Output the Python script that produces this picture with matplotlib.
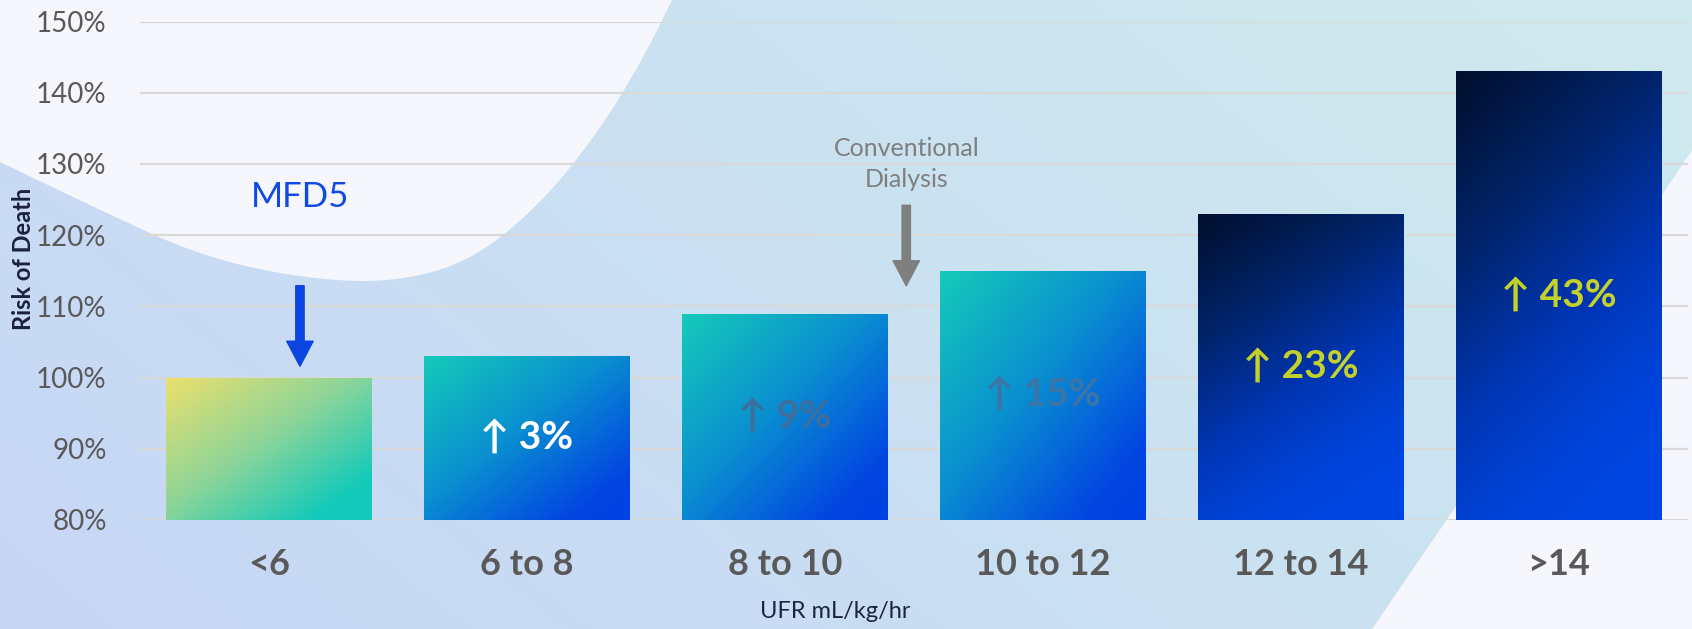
import numpy as np
import matplotlib
matplotlib.use('Agg')
import matplotlib.pyplot as plt
from matplotlib.colors import LinearSegmentedColormap, to_rgb
from matplotlib.patches import Polygon

# data
categories = ['<6', '6 to 8', '8 to 10', '10 to 12', '12 to 14', '>14']
risk = [100, 103, 109, 115, 123, 143]
increase = ['', '↑ 3%', '↑ 9%', '↑ 15%', '↑ 23%', '↑ 43%']
yticks = [80, 90, 100, 110, 120, 130, 140, 150]
base = 80

W, H = 1692, 629
fig = plt.figure(figsize=(W / 100, H / 100), dpi=100)

# --- decorative background ---
bg = fig.add_axes([0, 0, 1, 1], zorder=-10)
bg.set_xlim(0, W)
bg.set_ylim(H, 0)
bg.axis('off')
yy, xx = np.mgrid[0:H, 0:W]
s = np.clip((xx / W) * 0.75 + (1 - yy / H) * 0.35, 0, 1)[..., None]
lav = np.array(to_rgb('#c7d6f6'))
cyan = np.array(to_rgb('#cde9ee'))
bg.imshow(lav * (1 - s) + cyan * s, extent=[0, W, H, 0], aspect='auto')


def chaikin(pts, n=5):
    pts = np.asarray(pts, float)
    for _ in range(n):
        q = 0.75 * pts[:-1] + 0.25 * pts[1:]
        r = 0.25 * pts[:-1] + 0.75 * pts[1:]
        new = np.empty((2 * len(q), 2))
        new[0::2] = q
        new[1::2] = r
        pts = np.vstack([pts[:1], new, pts[-1:]])
    return pts


white = '#f5f7fc'
curve = chaikin([(0, 162), (100, 210), (200, 256), (300, 278), (390, 283),
                 (470, 262), (540, 205), (600, 130), (645, 55), (672, 0)])
bg.add_patch(Polygon(np.vstack([curve, [(0, 0)]]), closed=True,
                     facecolor=white, edgecolor='none'))
bg.add_patch(Polygon([(W, 150), (1450, 515), (1372, H), (W, H)], closed=True,
                     facecolor=white, edgecolor='none'))

# --- main chart ---
ax = fig.add_axes([140 / W, 109 / H, 1548 / W, 498.4 / H])
ax.patch.set_alpha(0)

x = np.arange(len(categories))
bars = ax.bar(x, np.array(risk) - base, bottom=base, width=0.795,
              color='none', edgecolor='none', zorder=2)

cm_yellow = LinearSegmentedColormap.from_list(
    'y', [(0, '#ece06c'), (0.45, '#8fd598'), (0.85, '#14cab9'), (1, '#12c9bb')])
cm_teal = LinearSegmentedColormap.from_list(
    't', [(0, '#14cbb9'), (0.45, '#0a8fd0'), (0.85, '#0245e2'), (1, '#0042e4')])
cm_navy = LinearSegmentedColormap.from_list(
    'n', [(0, '#000f2c'), (0.3, '#00246c'), (0.55, '#0036b4'), (0.78, '#0044dc'),
          (1, '#0047e6')])

vv, uu = np.mgrid[0:1:200j, 0:1:200j]
for i, b in enumerate(bars):
    if i == 0:
        cm, t = cm_yellow, (uu + vv) / 2
    elif i < 4:
        cm, t = cm_teal, (uu + vv) / 2
    else:
        cm, t = cm_navy, 0.3 * uu + 0.7 * vv
    x0, y0 = b.get_x(), b.get_y()
    im = ax.imshow(cm(t), extent=[x0, x0 + b.get_width(), y0, y0 + b.get_height()],
                   origin='upper', aspect='auto', zorder=2)
    im.set_clip_path(b)

ax.set_xlim(-0.5, 5.5)
ax.set_ylim(80, 150)
ax.set_yticks(yticks)
ax.set_yticklabels([f'{v}%' for v in yticks], fontsize=20, color='#595959',
                   family='Lato')
ax.set_xticks(x)
ax.set_xticklabels(categories, fontsize=26, color='#595959', family='Lato',
                   fontweight='bold')
ax.tick_params(axis='y', length=0, pad=24)
ax.tick_params(axis='x', length=0, pad=20)
ax.yaxis.grid(True, color='#d9d9d9', lw=1.6)
ax.set_axisbelow(True)
for sp in ax.spines.values():
    sp.set_visible(False)

ax.set_xlabel('UFR mL/kg/hr', fontsize=17, color='#1c2540', family='Lato')
ax.xaxis.set_label_coords((835 - 140) / 1548, (520 - 612) / 498.4)
ax.xaxis.label.set_va('center')
ax.set_ylabel('Risk of Death', fontsize=17, color='#1a2040', family='Lato',
              fontweight='bold')
ax.yaxis.set_label_coords((24 - 140) / 1548, (520 - 259) / 498.4)
ax.yaxis.label.set_va('center')

# labels inside bars
label_colors = [None, 'white', '#3e6e9d', '#3b74a6', '#c5d12b', '#c5d12b']
for i, txt in enumerate(increase):
    if not txt:
        continue
    ax.text(x[i], base + (risk[i] - base) / 2, txt, ha='center', va='center',
            fontsize=28, fontweight='bold', color=label_colors[i],
            family=['Lato', 'DejaVu Sans'], zorder=3)

# annotations
arrow_style = 'simple,head_width=1.9,head_length=1.8,tail_width=0.6'
ax.text(0.12, 125.4, 'MFD5', ha='center', va='center', fontsize=25,
        color='#1149e6', family='Lato')
ax.annotate('', xy=(0.12, 101.6), xytext=(0.12, 112.9),
            arrowprops=dict(arrowstyle=arrow_style, color='#0a45e0',
                            mutation_scale=10, shrinkA=0, shrinkB=0))
ax.text(2.47, 130, 'Conventional\nDialysis', ha='center', va='center',
        fontsize=18, color='#7f7f7f', family='Lato', linespacing=1.45)
ax.annotate('', xy=(2.47, 112.9), xytext=(2.47, 124.2),
            arrowprops=dict(arrowstyle=arrow_style, color='#7f7f7f',
                            mutation_scale=10, shrinkA=0, shrinkB=0))

fig.savefig('out.png', dpi=100)
